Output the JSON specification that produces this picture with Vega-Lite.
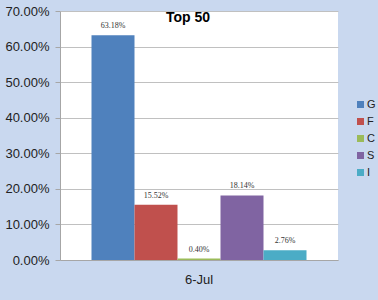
{
  "$schema": "https://vega.github.io/schema/vega-lite/v6.json",
  "width": 278,
  "height": 249,
  "autosize": {"type": "none"},
  "padding": {"left": 60, "top": 11, "right": 40, "bottom": 40},
  "background": "#c9d8ef",
  "title": {
    "text": "Top 50",
    "fontSize": 14,
    "font": "Liberation Sans",
    "fontWeight": "bold",
    "color": "#000000",
    "anchor": "middle",
    "dx": -11,
    "dy": 24
  },
  "data": {
    "values": [
      {"date": "6-Jul", "series": "G", "value": 0.6318},
      {"date": "6-Jul", "series": "F", "value": 0.1552},
      {"date": "6-Jul", "series": "C", "value": 0.0040},
      {"date": "6-Jul", "series": "S", "value": 0.1814},
      {"date": "6-Jul", "series": "I", "value": 0.0276}
    ]
  },
  "config": {
    "view": {"fill": "#ffffff", "stroke": null},
    "axis": {"labelFont": "Liberation Sans", "labelColor": "#222222"}
  },
  "encoding": {
    "x": {
      "field": "date",
      "type": "nominal",
      "scale": {"paddingInner": 0, "paddingOuter": 0.1465},
      "axis": {
        "title": null,
        "labelAngle": 0,
        "labelFontSize": 13,
        "labelPadding": 13,
        "domainColor": "#a6a6a6",
        "ticks": false
      }
    },
    "xOffset": {
      "field": "series",
      "type": "nominal",
      "sort": ["G", "F", "C", "S", "I"],
      "scale": {"paddingInner": 0, "paddingOuter": 0}
    },
    "y": {
      "field": "value",
      "type": "quantitative",
      "scale": {"domain": [0, 0.7], "nice": false},
      "axis": {
        "title": null,
        "format": ".2%",
        "values": [0, 0.1, 0.2, 0.3, 0.4, 0.5, 0.6, 0.7],
        "labelFontSize": 13,
        "labelPadding": 6,
        "tickSize": 5,
        "tickColor": "#a6a6a6",
        "domainColor": "#a6a6a6",
        "gridColor": "#c0c0c0"
      }
    }
  },
  "layer": [
    {
      "mark": {"type": "bar"},
      "encoding": {
        "color": {
          "field": "series",
          "type": "nominal",
          "sort": ["G", "F", "C", "S", "I"],
          "scale": {
            "domain": ["G", "F", "C", "S", "I"],
            "range": ["#4f81bd", "#c0504d", "#9bbb59", "#8064a2", "#4bacc6"]
          },
          "legend": {
            "title": null,
            "orient": "none",
            "legendX": 295,
            "legendY": 88,
            "padding": 0,
            "symbolType": "square",
            "symbolSize": 49,
            "symbolStrokeWidth": 0,
            "labelFont": "Liberation Sans",
            "labelFontSize": 11,
            "labelColor": "#222222",
            "rowPadding": 5,
            "labelOffset": 1
          }
        }
      }
    },
    {
      "mark": {
        "type": "text",
        "dy": -9,
        "font": "Liberation Serif",
        "fontSize": 8,
        "color": "#333333"
      },
      "encoding": {
        "text": {"field": "value", "type": "quantitative", "format": ".2%"}
      }
    }
  ]
}
